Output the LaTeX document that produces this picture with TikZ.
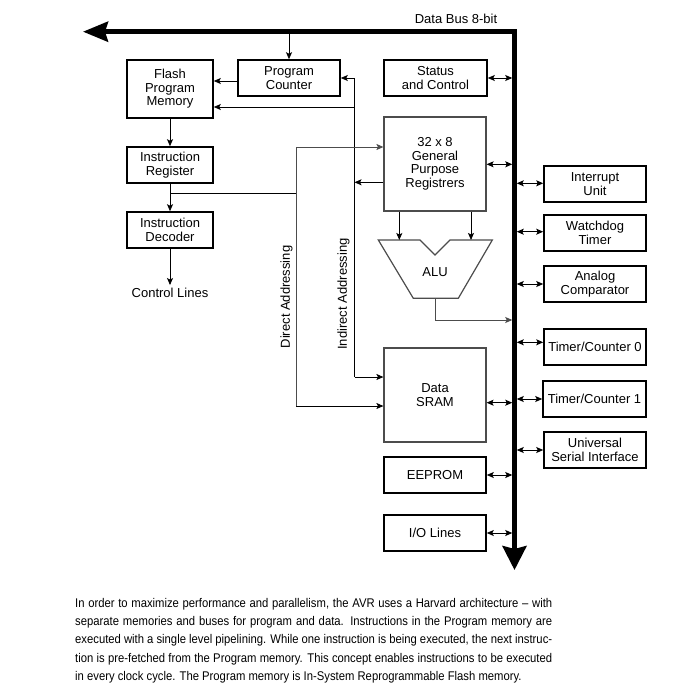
\documentclass[tikz,border=0pt]{standalone}
\usepackage{graphicx}
\usepackage{fontspec}
\setmainfont{Liberation Sans}
\usetikzlibrary{arrows.meta,calc}
\newcommand{\dgmfont}{\fontsize{13}{13.5}\selectfont}
\newcommand{\parafont}{\fontsize{12.6}{14}\selectfont}
\newcommand{\jline}[1]{\scalebox{0.895}[1]{\hbox to 533pt{#1}}}
\begin{document}
\begin{tikzpicture}[x=1pt,y=-1pt,
  box/.style={draw, line width=1.6pt, inner sep=0pt, align=center, font=\dgmfont,
    minimum width=102pt, minimum height=36pt},
  gbox/.style={box, draw=black!70, line width=1.2pt},
  conn/.style={line width=0.8pt},
  gconn/.style={conn, draw=black!70},
  tip/.style={conn, -{Stealth[length=7pt,width=6pt,inset=1.5pt]}},
  bi/.style={conn, {Stealth[length=7pt,width=6pt,inset=1.5pt]}-{Stealth[length=7pt,width=6pt,inset=1.5pt]}},
  lbl/.style={font=\dgmfont, inner sep=0pt},
  para/.style={anchor=base west, inner sep=0pt, font=\parafont}]
\useasboundingbox (0,0) rectangle (695,688);
% bus
\coordinate (busL) at (83,31.7);
\coordinate (busC) at (514.5,31.7);
\coordinate (busB) at (514.5,570);
\draw[line width=4.5pt, {Stealth[length=25pt,width=20pt,inset=3pt]}-{Stealth[length=24pt,width=24pt,inset=3pt]}] (busL) -- (busC) -- (busB);
\node[lbl, anchor=base] (dbl) at (456,23.3) {Data Bus 8-bit};
% left column
\node[box, minimum width=86pt, minimum height=58pt] (flash) at (170,89) {Flash\\Program\\Memory};
\node[box] (pc) at (289,78) {Program\\Counter};
\node[box, minimum width=103pt] (status) at (435.5,78) {Status\\and Control};
\node[box, minimum width=86pt] (ir) at (170,165) {Instruction\\Register};
\node[box, minimum width=86pt] (id) at (170,230) {Instruction\\Decoder};
\node[lbl] (ctl) at (170,293) {Control Lines};
% centre
\node[gbox, minimum height=94pt] (gpr) at (435,164) {32 x 8\\General\\Purpose\\Registrers};
\node[gbox, minimum height=94pt] (sram) at (435,395) {Data\\SRAM};
\node[box] (eeprom) at (435,475) {EEPROM};
\node[box] (io) at (435,533) {I/O Lines};
% right column
\node[box] (int) at (595,184) {Interrupt\\Unit};
\node[box] (wdt) at (595,233) {Watchdog\\Timer};
\node[box] (ac) at (595,284) {Analog\\Comparator};
\node[box] (tc0) at (595,347) {Timer/Counter 0};
\node[box, minimum width=103pt] (tc1) at (594.5,399) {Timer/Counter 1};
\node[box] (usi) at (595,450) {Universal\\Serial Interface};
% ALU
\coordinate (a1) at (378.3,240);
\coordinate (a2) at (420,240);
\coordinate (a3) at (435,255);
\coordinate (a4) at (450,240);
\coordinate (a5) at (492.3,240);
\coordinate (a6) at (458.3,298.3);
\coordinate (a7) at (413.3,298.3);
\draw[line width=1.2pt, draw=black!70, line join=miter] (a1) -- (a2) -- (a3) -- (a4) -- (a5) -- (a6) -- (a7) -- cycle;
\node[lbl] (alu) at (435,272) {ALU};
\coordinate (aluL) at (399.3,240);
\coordinate (aluR) at (471,240);
\draw[tip] (aluL |- gpr.south) -- (aluL);
\draw[tip] (aluR |- gpr.south) -- (aluR);
\coordinate (aluo) at (435,298.3);
\coordinate (aluk) at (435,320);
\draw[gconn, -{Stealth[length=7pt,width=6pt,inset=1.5pt]}, shorten >=2.25pt] (aluo) -- (aluk) -- (aluk -| busC);
% program path
\coordinate (pcW) at (pc.west |- 0,81);
\draw[tip, shorten <=2.25pt] (pc.north |- busC) -- (pc.north);
\draw[tip] (pcW) -- (pcW -| flash.east);
\draw[tip] (flash.south) -- (ir.north);
\draw[tip] (ir.south) -- (id.north);
\draw[tip, shorten >=3pt] (id.south) -- (ctl.north);
% indirect addressing
\coordinate (iT) at (354.5,78);
\coordinate (iF) at (354.5,107);
\coordinate (iG) at (354.5,182.3);
\coordinate (iB) at (354.5,377);
\draw[conn] (iT) -- (iB);
\draw[tip] (iT) -- (iT -| pc.east);
\draw[tip] (iF) -- (iF -| flash.east);
\draw[tip] (iG -| gpr.west) -- (iG);
\draw[tip] (iB) -- (iB -| sram.west);
% direct addressing
\coordinate (dT) at (296,147);
\coordinate (dM) at (296,193.3);
\coordinate (dB) at (296,406);
\draw[conn] (dM -| ir.south) -- (dM);
\draw[gconn] (dT) -- (dB);
\draw[gconn, -{Stealth[length=7pt,width=6pt,inset=1.5pt]}] (dT) -- (dT -| gpr.west);
\draw[tip] (dB) -- (dB -| sram.west);
\node[lbl, rotate=90] (dal) at (286.5,297) {Direct Addressing};
\node[lbl, rotate=90] (ial) at (343.5,294) {Indirect Addressing};
% bus links, left side
\coordinate (gprE) at (gpr.east |- 0,164.3);
\coordinate (sramE) at (sram.east |- 0,402.7);
\draw[bi, shorten >=2.25pt] (status.east) -- (status.east -| busC);
\draw[bi, shorten >=2.25pt] (gprE) -- (gprE -| busC);
\draw[bi, shorten >=2.25pt] (sramE) -- (sramE -| busC);
\draw[bi, shorten >=2.25pt] (eeprom.east) -- (eeprom.east -| busC);
\draw[bi, shorten >=2.25pt] (io.east) -- (io.east -| busC);
% bus links, right side
\coordinate (intW) at (int.west |- 0,183.3);
\coordinate (wdtW) at (wdt.west |- 0,231.7);
\coordinate (tc0W) at (tc0.west |- 0,342.3);
\draw[bi, shorten <=2.25pt] (intW -| busC) -- (intW);
\draw[bi, shorten <=2.25pt] (wdtW -| busC) -- (wdtW);
\draw[bi, shorten <=2.25pt] (ac.west -| busC) -- (ac.west);
\draw[bi, shorten <=2.25pt] (tc0W -| busC) -- (tc0W);
\draw[bi, shorten <=2.25pt] (tc1.west -| busC) -- (tc1.west);
\draw[bi, shorten <=2.25pt] (usi.west -| busC) -- (usi.west);
% paragraph
\node[para] (p1) at (75,607) {\jline{In order to maximize performance and parallelism, the AVR uses a Harvard architecture – with}};
\node[para] (p2) at (75,625.4) {\jline{separate memories and buses for program and data. Instructions in the Program memory are}};
\node[para] (p3) at (75,643.8) {\jline{executed with a single level pipelining. While one instruction is being executed, the next instruc-}};
\node[para] (p4) at (75,662.2) {\jline{tion is pre-fetched from the Program memory. This concept enables instructions to be executed}};
\node[para] (p5) at (75,680.6) {\scalebox{0.895}[1]{in every clock cycle. The Program memory is In-System Reprogrammable Flash memory.}};
\end{tikzpicture}
\end{document}
